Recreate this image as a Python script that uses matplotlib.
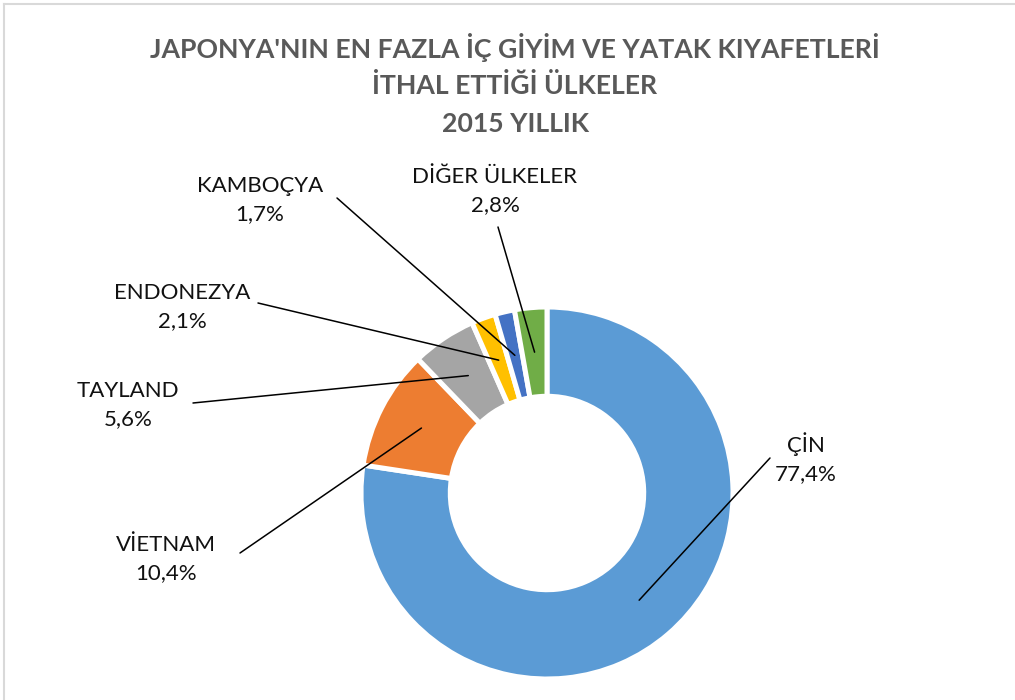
import matplotlib.pyplot as plt
import numpy as np

countries = ["ÇİN", "VİETNAM", "TAYLAND", "ENDONEZYA", "KAMBOÇYA", "DİĞER ÜLKELER"]
shares = [77.4, 10.4, 5.6, 2.1, 1.7, 2.8]
colors = ["#5B9BD5", "#ED7D31", "#A5A5A5", "#FFC000", "#4472C4", "#70AD47"]
title_lines = ["JAPONYA'NIN EN FAZLA İÇ GİYİM VE YATAK KIYAFETLERİ",
               "İTHAL ETTİĞİ ÜLKELER", "2015 YILLIK"]

# label text centre and leader-line start, in pixels from top-left
label_pos = [(806, 458), (166, 559), (128, 405), (182, 307), (260, 200), (495, 191)]
line_start = [(770, 458), (240, 553), (193, 403), (258, 303), (337, 198), (498, 227)]

W, H = 1015, 700
fig = plt.figure(figsize=(W / 100, H / 100), dpi=100)
plt.rcParams["font.family"] = ["Lato", "DejaVu Sans"]

cx, cy, r = 547, 493, 186
ax = fig.add_axes([(cx - r) / W, (H - cy - r) / H, 2 * r / W, 2 * r / H])
wedges, _ = ax.pie(shares, colors=colors, startangle=90, counterclock=False,
                   radius=1, wedgeprops=dict(width=0.48, edgecolor="white", linewidth=3.6))
ax.set_xlim(-1, 1)
ax.set_ylim(-1, 1)
ax.set_aspect("equal")
ax.axis("off")

# title
for i, line in enumerate(title_lines):
    fig.text(515 / W, 1 - (47 + i * 38.5) / H, line, ha="center", va="center",
             fontsize=19.2, fontweight="bold", color="#595959")

# labels with leader lines
for w, name, val, (lx, ly), (sx, sy) in zip(wedges, countries, shares, label_pos, line_start):
    mid = np.deg2rad((w.theta1 + w.theta2) / 2)
    ex, ey = 0.76 * np.cos(mid), 0.76 * np.sin(mid)
    fig.text(lx / W, 1 - ly / H, f"{name}\n{val:.1f}%".replace(".", ","),
             ha="center", va="center", fontsize=16, color="#111111", linespacing=1.5)
    ax.annotate("", xy=(ex, ey), xycoords="data",
                xytext=(sx / W, 1 - sy / H), textcoords="figure fraction",
                arrowprops=dict(arrowstyle="-", color="black", lw=1.1,
                                shrinkA=0, shrinkB=0))

# chart frame edges (top and left visible)
fig.add_artist(plt.Line2D([4 / W, 1], [1 - 4 / H, 1 - 4 / H], color="#D9D9D9", lw=1.5))
fig.add_artist(plt.Line2D([4 / W, 4 / W], [0, 1 - 4 / H], color="#D9D9D9", lw=1.5))

fig.savefig("out.png", dpi=100)
